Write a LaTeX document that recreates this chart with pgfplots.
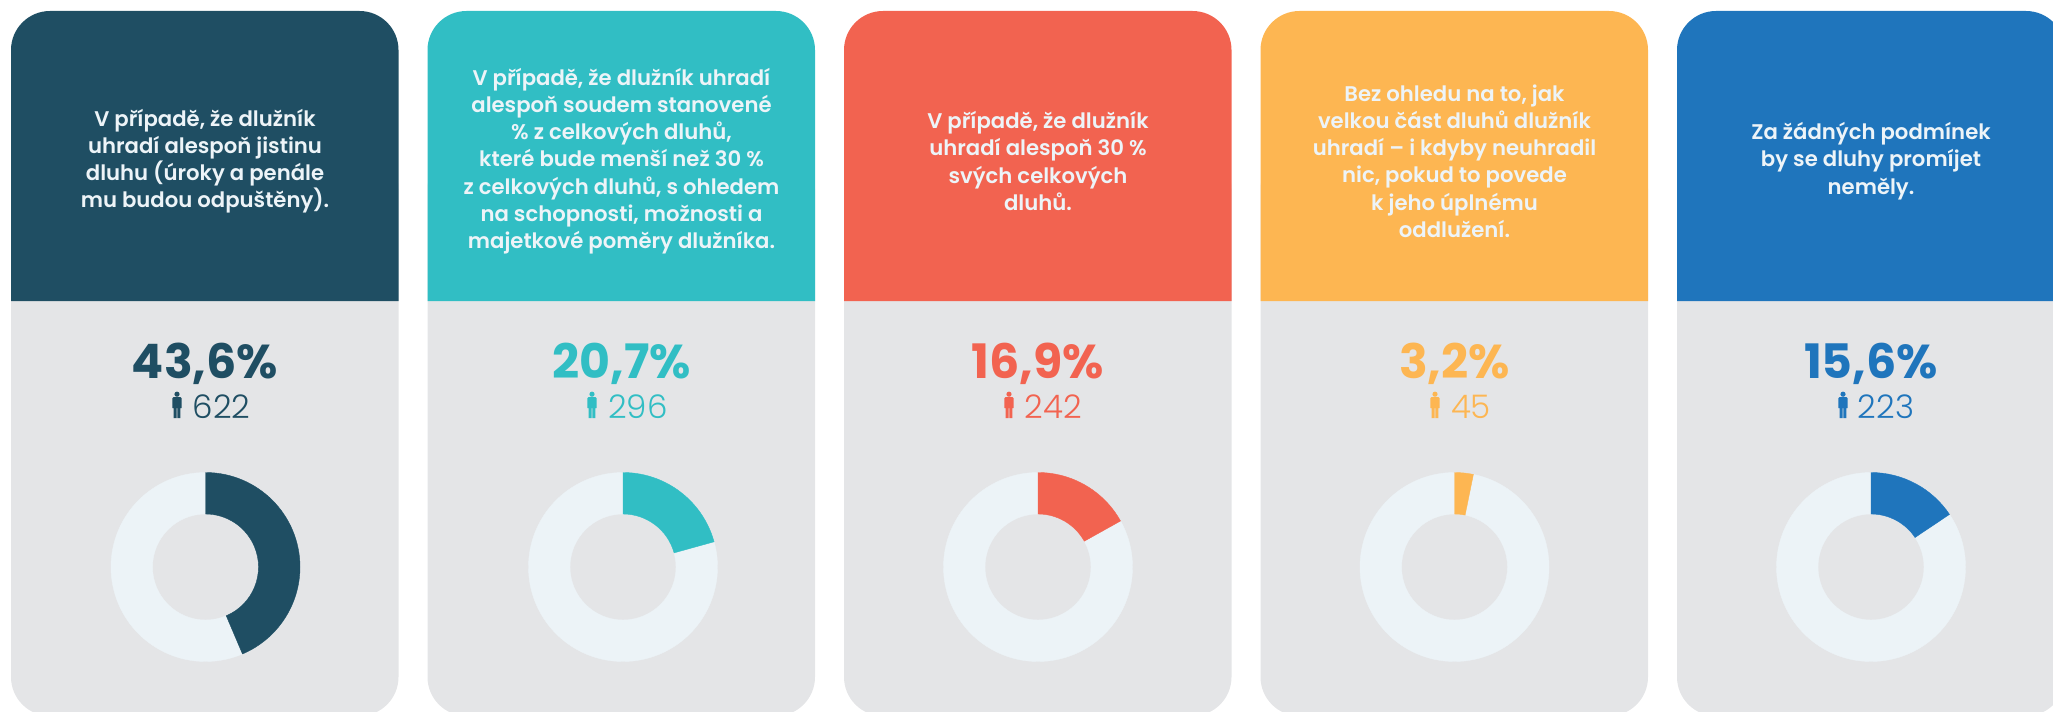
\documentclass[border=0pt]{standalone}
\usepackage{fontspec}
\usepackage{pgfplots}
\usepackage{pgfplotstable}
\pgfplotsset{compat=1.18}
\setmainfont{Poppins}
\newfontfamily\headfont{Poppins SemiBold}
\newfontfamily\pctfont{Poppins Bold}
\newfontfamily\cntfont{Poppins Light}

\definecolor{cdark}{HTML}{1F4E63}
\definecolor{cteal}{HTML}{31BEC4}
\definecolor{cred}{HTML}{F26350}
\definecolor{corange}{HTML}{FDB652}
\definecolor{cblue}{HTML}{1F75BC}
\definecolor{cardgray}{HTML}{E4E5E7}
\definecolor{ringcol}{HTML}{ECF3F7}
\definecolor{headtext}{HTML}{EDF4F8}

\pgfplotstableread{
cx cy share count
205.5 567 43.6 622
}\tabA
\pgfplotstableread{
cx cy share count
623 567 20.7 296
}\tabB
\pgfplotstableread{
cx cy share count
1038 567 16.9 242
}\tabC
\pgfplotstableread{
cx cy share count
1454.5 567 3.2 45
}\tabD
\pgfplotstableread{
cx cy share count
1871 567 15.6 223
}\tabE

\pgfdeclareplotmark{blank}{}
\pgfdeclareplotmark{person}{%
  \pgfpathcircle{\pgfqpoint{0pt}{10.8pt}}{2.6pt}%
  \pgfpathmoveto{\pgfqpoint{-3.6pt}{7.8pt}}%
  \pgfpathlineto{\pgfqpoint{3.6pt}{7.8pt}}%
  \pgfpathlineto{\pgfqpoint{4.6pt}{6.8pt}}%
  \pgfpathlineto{\pgfqpoint{4.6pt}{-3pt}}%
  \pgfpathlineto{\pgfqpoint{3.4pt}{-3pt}}%
  \pgfpathlineto{\pgfqpoint{3.4pt}{-13pt}}%
  \pgfpathlineto{\pgfqpoint{0.3pt}{-13pt}}%
  \pgfpathlineto{\pgfqpoint{0.3pt}{-3pt}}%
  \pgfpathlineto{\pgfqpoint{-0.3pt}{-3pt}}%
  \pgfpathlineto{\pgfqpoint{-0.3pt}{-13pt}}%
  \pgfpathlineto{\pgfqpoint{-3.4pt}{-13pt}}%
  \pgfpathlineto{\pgfqpoint{-3.4pt}{-3pt}}%
  \pgfpathlineto{\pgfqpoint{-4.6pt}{-3pt}}%
  \pgfpathlineto{\pgfqpoint{-4.6pt}{6.8pt}}%
  \pgfpathclose
  \pgfusepathqfill
}

% #1 table, #2 colour, #3 percent label, #4 icon x, #5 count x, #6 count label,
% #7 centre x, #8 left edge, #9 right edge
\newcommand{\card}[9]{
  \fill[cardgray,rounded corners=39pt] (#8,150) rectangle (#9,716);
  \fill[#2] (#8,301) [rounded corners=39pt] -- (#8,11) -- (#9,11) [sharp corners] -- (#9,301) -- cycle;
  \node[text=#2,font=\pctfont\fontsize{47.5}{47.5}\selectfont] at (#7,364) {#3};
  \addplot[only marks,mark=person,color=#2,mark options={fill=#2,draw=none}] coordinates {(#4,405)};
  \node[text=#2,font=\cntfont\fontsize{32.5}{33}\selectfont] at (#5,407) {#6};
  \addplot[scatter,only marks,mark=blank,
    visualization depends on={\thisrow{share}\as\share},
    scatter/@pre marker code/.append code={
      \fill[ringcol,even odd rule] (0,0) circle[radius=94.5pt] (0,0) circle[radius=53pt];
      \fill[#2] (90:94.5pt) arc[start angle=90,delta angle=-3.6*\share,radius=94.5pt]
        -- ({90-3.6*\share}:53pt) arc[start angle=90-3.6*\share,delta angle=3.6*\share,radius=53pt] -- cycle;
    }] table[x=cx,y=cy] {#1};
}
\newcommand{\headtext}[2]{
  \node[text=headtext,align=center,font=\headfont\fontsize{21.2}{27.2}\selectfont] at (#1,161) {#2};
}

\begin{document}
\begin{tikzpicture}
\useasboundingbox (0,0.8pt) rectangle (2053pt,712pt);
\begin{axis}[
  at={(0,0)},anchor=south west,
  x=1pt,y=1pt,
  scale only axis,
  xmin=0,xmax=2053,ymin=0,ymax=712,
  y dir=reverse,
  hide axis,
]
\card{\tabA}{cdark}{43,6\%}{177}{221.5}{622}{205}{11}{398.5}
\headtext{205}{V případě, že dlužník\\uhradí alespoň jistinu\\dluhu (úroky a penále\\mu budou odpuštěny).}
\card{\tabB}{cteal}{20,7\%}{592}{638}{296}{621.5}{427.5}{815}
\headtext{621.5}{V případě, že dlužník uhradí\\alespoň soudem stanovené\\\% z celkových dluhů,\\které bude menší než 30 \%\\z celkových dluhů, s ohledem\\na schopnosti, možnosti a\\majetkové poměry dlužníka.}
\card{\tabC}{cred}{16,9\%}{1009}{1053.5}{242}{1038}{844}{1231.5}
\headtext{1038}{V případě, že dlužník\\uhradí alespoň 30 \%\\svých celkových\\dluhů.}
\card{\tabD}{corange}{3,2\%}{1435}{1471}{45}{1454.5}{1260.5}{1648}
\headtext{1454.5}{Bez ohledu na to, jak\\velkou část dluhů dlužník\\uhradí – i kdyby neuhradil\\nic, pokud to povede\\k jeho úplnému\\oddlužení.}
\card{\tabE}{cblue}{15,6\%}{1843}{1886}{223}{1871}{1677}{2065}
\headtext{1871}{Za žádných podmínek\\by se dluhy promíjet\\neměly.}
\end{axis}
\end{tikzpicture}
\end{document}
